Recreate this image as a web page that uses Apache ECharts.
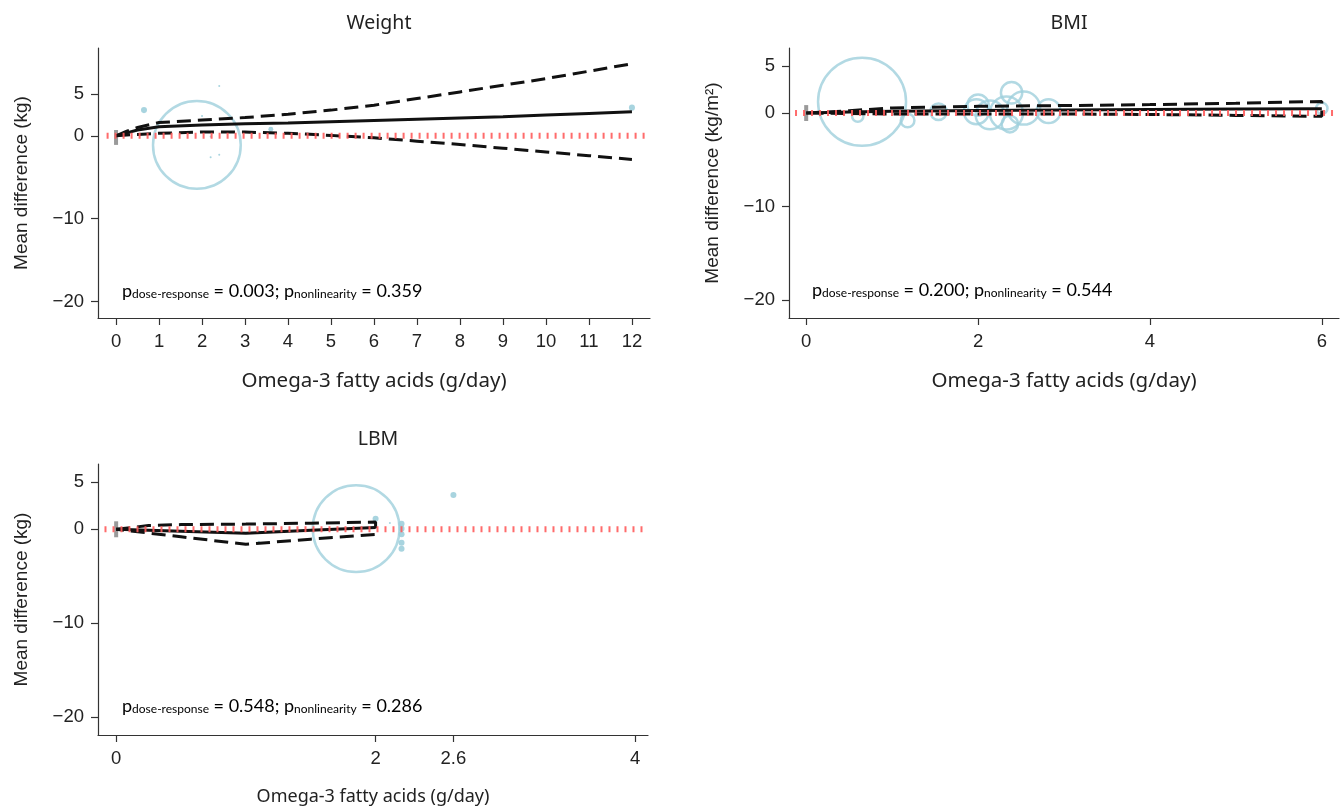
<!DOCTYPE html>
<html>
<head>
<meta charset="utf-8">
<script src="https://cdn.jsdelivr.net/npm/echarts@6/dist/echarts.min.js"></script>
<style>html,body{margin:0;padding:0;background:#fff}#c{width:1344px;height:808px}</style>
</head>
<body>
<div id="c"></div>
<script>
// ---------- Weight ----------
const weightCurveX = [0, 0.25, 0.5, 1, 2, 3, 4, 5, 6, 7, 8, 9, 10, 11, 12];
const weightFit    = [0, 0.35, 0.7, 1.1, 1.3, 1.45, 1.55, 1.7, 1.85, 2.0, 2.15, 2.3, 2.5, 2.7, 2.9];
const weightUpper  = [0, 0.55, 1.0, 1.6, 1.9, 2.2, 2.6, 3.1, 3.7, 4.5, 5.3, 6.1, 6.9, 7.8, 8.7];
const weightLower  = [0, 0.1, 0.15, 0.3, 0.45, 0.45, 0.3, 0.05, -0.25, -0.65, -1.05, -1.5, -1.95, -2.4, -2.85];
const weightStudyX = [1.88, 0.65, 2.4, 12.0, 3.6, 2.2, 2.4, 2.0, 2.2, 1.1];
const weightStudyY = [-1.1, 3.1, 6.0, 3.4, 0.8, -2.6, -2.3, 2.4, -0.1, 1.1];
const weightStudyW = [95, 0.45, 0.05, 0.45, 0.3, 0.05, 0.05, 0.05, 0.05, 0.1];
const weightRef    = [-1.1, 0.7];
const weightXTicks = [0, 1, 2, 3, 4, 5, 6, 7, 8, 9, 10, 11, 12];
const weightYTicks = [5, 0, -10, -20];
const weightP      = ['0.003', '0.359'];

// ---------- BMI ----------
const bmiCurveX = [0, 0.5, 1, 2, 3, 4, 5, 6];
const bmiFit    = [0, 0.1, 0.2, 0.28, 0.33, 0.38, 0.42, 0.46];
const bmiUpper  = [0, 0.25, 0.55, 0.72, 0.8, 0.9, 1.05, 1.24];
const bmiLower  = [0, -0.05, -0.1, -0.1, -0.1, -0.15, -0.25, -0.35];
const bmiStudyX = [0.65, 0.6, 1.18, 1.54, 2.0, 1.98, 2.14, 2.39, 2.33, 2.37, 2.53, 2.82, 6.0];
const bmiStudyY = [1.2, -0.32, -0.8, 0.14, 0.85, 0.14, -0.2, 2.17, 0, -1.18, 0.53, 0.2, 0.5];
const bmiStudyW = [95.6, 1.6, 2.3, 3.4, 5.6, 7.6, 10.2, 5.6, 13.5, 3.4, 13.5, 7.0, 1.6];
const bmiRef    = [-0.85, 0.85];
const bmiXTicks = [0, 2, 4, 6];
const bmiYTicks = [5, 0, -10, -20];
const bmiP      = ['0.200', '0.544'];

// ---------- LBM ----------
const lbmCurveX = [0, 0.25, 0.5, 1, 1.5, 2];
const lbmFit    = [0, -0.1, -0.2, -0.43, -0.1, 0.2];
const lbmUpper  = [0, 0.4, 0.5, 0.55, 0.65, 0.77];
const lbmLower  = [0, -0.4, -0.8, -1.6, -1.05, -0.55];
const lbmStudyX = [1.85, 2.0, 2.6, 2.2, 2.2, 2.2, 2.2, 2.2, 1.1, 1.1, 2.11];
const lbmStudyY = [0.07, 1.13, 3.66, 0.6, 0.07, -0.53, -1.44, -2.08, -0.2, -1.34, 0.67];
const lbmStudyW = [93, 0.45, 0.45, 0.45, 0.45, 0.45, 0.45, 0.45, 0.05, 0.05, 0.05];
const lbmRef    = [-0.85, 0.85];
const lbmXTicks = [0, 2, 2.6, 4];
const lbmYTicks = [5, 0, -10, -20];
const lbmP      = ['0.548', '0.286'];

const titles = ['Weight', 'BMI', 'LBM'];
const yNames = ['Mean difference (kg)', 'Mean difference (kg/m\u00B2)', 'Mean difference (kg)'];
const xName = 'Omega-3 fatty acids (g/day)';

// ---------- layout / styles ----------
const panels = [
  {grid:{left:98, top:48, width:552, height:270}, xr:[-0.42,12.42], yr:[-22,10.6], redStart:-0.22,
   cx:weightCurveX, fit:weightFit, up:weightUpper, lo:weightLower, closed:false,
   sx:weightStudyX, sy:weightStudyY, sw:weightStudyW, ref:weightRef, xt:weightXTicks, yt:weightYTicks, p:weightP,
   xNameSize:20.5, xNameGap:53, ann:[122,295]},
  {grid:{left:789, top:48, width:550, height:270}, xr:[-0.2,6.2], yr:[-21.9,6.95], redStart:-0.13,
   cx:bmiCurveX, fit:bmiFit, up:bmiUpper, lo:bmiLower, closed:true,
   sx:bmiStudyX, sy:bmiStudyY, sw:bmiStudyW, ref:bmiRef, xt:bmiXTicks, yt:bmiYTicks, p:bmiP,
   xNameSize:20.5, xNameGap:53, ann:[812,294]},
  {grid:{left:98, top:464, width:550, height:271}, xr:[-0.14,4.1], yr:[-21.9,6.95], redStart:-0.09,
   cx:lbmCurveX, fit:lbmFit, up:lbmUpper, lo:lbmLower, closed:true,
   sx:lbmStudyX, sy:lbmStudyY, sw:lbmStudyW, ref:lbmRef, xt:lbmXTicks, yt:lbmYTicks, p:lbmP,
   xNameSize:18, xNameGap:53, ann:[122,710]}
];

const AX = '#333', TXT = '#222', BLUE = '#9fcfdc', RED = '#ff5c5c';
const fmtNum = v => (v < 0 ? '\u2212' + Math.abs(v) : String(v));
const diam = w => 9 * Math.sqrt(w);

const option = {
  animation: false,
  backgroundColor: '#fff',
  title: [], grid: [], xAxis: [], yAxis: [], series: [], graphic: []
};

panels.forEach((P, i) => {
  option.grid.push(P.grid);
  option.title.push({
    text: titles[i], left: P.grid.left + P.grid.width / 2, top: P.grid.top - 40, textAlign: 'center',
    textStyle: {fontFamily: 'Noto Sans', fontSize: 19.5, fontWeight: 'normal', color: TXT}
  });
  option.xAxis.push({
    type: 'value', gridIndex: i, min: P.xr[0], max: P.xr[1],
    name: xName, nameLocation: 'middle', nameGap: P.xNameGap,
    nameTextStyle: {fontFamily: 'Noto Sans', fontSize: P.xNameSize, color: TXT},
    axisLine: {show: true, onZero: false, lineStyle: {color: AX, width: 1.2}},
    axisTick: {show: true, length: 7, customValues: P.xt, lineStyle: {color: AX, width: 1.2}},
    axisLabel: {customValues: P.xt, margin: 14, fontFamily: 'Liberation Sans', fontSize: 18.5, color: TXT,
                formatter: v => fmtNum(v)},
    splitLine: {show: false}
  });
  option.yAxis.push({
    type: 'value', gridIndex: i, min: P.yr[0], max: P.yr[1],
    name: yNames[i], nameLocation: 'middle', nameGap: 67, nameRotate: 90,
    nameTextStyle: {fontFamily: 'Liberation Sans', fontSize: 19, color: TXT},
    axisLine: {show: true, onZero: false, lineStyle: {color: AX, width: 1.2}},
    axisTick: {show: true, length: 7, customValues: P.yt, lineStyle: {color: AX, width: 1.2}},
    axisLabel: {customValues: P.yt, margin: 14, fontFamily: 'Liberation Sans', fontSize: 18.5, color: TXT,
                formatter: v => fmtNum(v)},
    splitLine: {show: false}
  });

  const big = [], small = [];
  P.sx.forEach((x, k) => {
    const d = [x, P.sy[k], P.sw[k]];
    (P.sw[k] >= 1 ? big : small).push(d);
  });

  // study circles
  option.series.push({
    type: 'scatter', xAxisIndex: i, yAxisIndex: i, data: big, z: 2,
    symbol: 'circle', symbolSize: v => diam(v[2]),
    itemStyle: {color: 'rgba(0,0,0,0)', borderColor: BLUE, borderWidth: 2.5}
  });
  option.series.push({
    type: 'scatter', xAxisIndex: i, yAxisIndex: i, data: small, z: 2,
    symbol: 'circle', symbolSize: v => Math.max(2, diam(v[2])),
    itemStyle: {color: BLUE, opacity: 0.9}
  });
  // reference (0 dose) marker
  option.series.push({
    type: 'line', xAxisIndex: i, yAxisIndex: i, z: 3, symbol: 'none',
    data: [[0, P.ref[0]], [0, P.ref[1]]],
    lineStyle: {color: '#9a9a9a', width: 4}
  });
  // fitted curve
  option.series.push({
    type: 'line', xAxisIndex: i, yAxisIndex: i, z: 4, symbol: 'none',
    data: P.cx.map((x, k) => [x, P.fit[k]]),
    lineStyle: {color: '#111', width: 3}
  });
  // confidence limits
  if (P.closed) {
    const d = P.cx.map((x, k) => [x, P.up[k]]);
    for (let k = P.cx.length - 1; k >= 0; k--) d.push([P.cx[k], P.lo[k]]);
    option.series.push({
      type: 'line', xAxisIndex: i, yAxisIndex: i, z: 4, symbol: 'none', data: d,
      lineStyle: {color: '#111', width: 3, type: [14, 7]}
    });
  } else {
    [P.up, P.lo].forEach(arr => option.series.push({
      type: 'line', xAxisIndex: i, yAxisIndex: i, z: 4, symbol: 'none',
      data: P.cx.map((x, k) => [x, arr[k]]),
      lineStyle: {color: '#111', width: 3, type: [14, 7]}
    }));
  }
  // null line
  option.series.push({
    type: 'line', xAxisIndex: i, yAxisIndex: i, z: 5, symbol: 'none',
    data: [[P.redStart, 0], [P.xr[1], 0]],
    lineStyle: {color: RED, width: 6, type: [2, 6], opacity: 0.9}
  });

  // p-value annotation
  option.graphic.push({
    type: 'text', left: P.ann[0], top: P.ann[1] - 13, z: 10,
    style: {
      text: '{m|p}{s|dose-response}{m| = ' + P.p[0] + '; p}{s|nonlinearity}{m| = ' + P.p[1] + '}',
      rich: {
        m: {fontFamily: 'Lato', fontSize: 18, color: TXT, lineHeight: 24, verticalAlign: 'bottom'},
        s: {fontFamily: 'Lato', fontSize: 12, color: TXT, lineHeight: 15, verticalAlign: 'bottom'}
      }
    }
  });
});

const chart = echarts.init(document.getElementById('c'), null, {renderer: 'canvas'});
chart.setOption(option);
</script>
</body>
</html>
